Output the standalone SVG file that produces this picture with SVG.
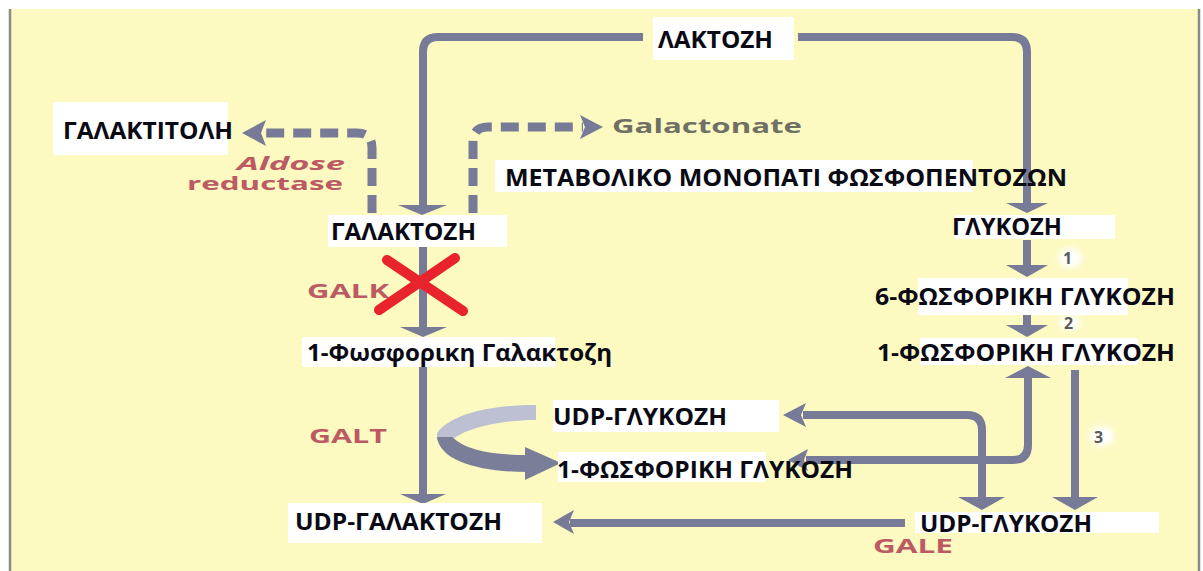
<svg xmlns="http://www.w3.org/2000/svg" width="1203" height="571" viewBox="0 0 1203 571">
<style>
.ln{fill:none;stroke:#777b97;stroke-width:8}
.dash{fill:none;stroke:#777b97;stroke-width:9;stroke-dasharray:18 9}
.ah{fill:#777b97}
.box{fill:#ffffff}
.t{font-family:"Open Sans","Noto Sans",sans-serif;font-weight:700;font-size:23px;fill:#0a0a14}
.enz{font-family:"Open Sans","Noto Sans",sans-serif;font-weight:700;font-size:19px;fill:#bb5a63}
.enz2{font-family:"Open Sans","Noto Sans",sans-serif;font-weight:700;font-size:17px;fill:#bb5a63}
.gal{font-family:"Open Sans","Noto Sans",sans-serif;font-weight:700;font-size:19px;fill:#6f6f64}
.num{font-family:"Open Sans","Noto Sans",sans-serif;font-weight:700;font-size:16px;fill:#5a5a5a}
</style>
<defs>
<filter id="glow" x="-50%" y="-50%" width="200%" height="200%"><feGaussianBlur stdDeviation="3"/></filter>
</defs>
<rect x="0" y="0" width="1203" height="571" fill="#ffffff"/>
<rect x="10" y="9" width="1189" height="562" fill="#fcf9c1"/>
<line x1="10" y1="9" x2="10" y2="571" stroke="#8a8a8a" stroke-width="2.5"/>
<line x1="1199" y1="9" x2="1199" y2="571" stroke="#8a8a8a" stroke-width="2.5"/>

<g id="connectors">
  <path class="ln" d="M423,205 V52 Q423,37 438,37 H643"/>
  <path class="ln" d="M798,37 H1012 Q1027,37 1027,52 V204"/>
  <polygon class="ah" points="398,205 447,205 422,215"/>
  <polygon class="ah" points="1006,203 1048,203 1027,213"/>
  <path class="dash" d="M372,213 V148 Q372,133 357,133 H262"/>
  <polygon class="ah" points="242,133 266,120 261,133 266,146"/>
  <path class="dash" d="M473,213 V142 Q473,127 488,127 H583"/>
  <polygon class="ah" points="603,127 580,115 585,127 580,139"/>
  <path class="ln" d="M423,247 V329"/>
  <polygon class="ah" points="400,327 447,327 423,337"/>
  <path class="ln" d="M423,367 V496"/>
  <polygon class="ah" points="400,494 446,494 423,504"/>
  <path class="ln" d="M1027,240 V267"/>
  <polygon class="ah" points="1006,265 1048,265 1027,277"/>
  <path class="ln" d="M1027,315 V326"/>
  <polygon class="ah" points="1006,325 1048,325 1027,337"/>
  <path class="ln" d="M806,460 H1013 Q1028,460 1028,445 V376"/>
  <polygon class="ah" points="1005,378 1051,378 1028,366"/>
  <polygon class="ah" points="788,460 808,449 804,460 808,471"/>
  <path class="ln" d="M803,415 H967 Q982,415 982,430 V499"/>
  <polygon class="ah" points="783,415 806,403 801,415 806,427"/>
  <polygon class="ah" points="958,497 1005,497 982,510"/>
  <path class="ln" d="M1075,370 V499"/>
  <polygon class="ah" points="1052,497 1098,497 1075,510"/>
  <path class="ln" d="M905,523 H570"/>
  <polygon class="ah" points="553,522 574,510 569,522 574,534"/>
  <path fill="#bcc0d2" d="M536,405 C492,405 452,413 437,433 L437,440 L452,440 C465,428 500,420 536,420 Z"/>
  <path fill="#7a7e99" d="M437,437 C440,462 482,472 527,472 L527,455 C490,455 466,450 452,437 Z"/>
  <polygon fill="#7a7e99" points="525,447 561,463 525,480"/>
</g>

<g id="labels">
  <text class="enz2" x="237" y="170" font-style="italic" textLength="108" lengthAdjust="spacingAndGlyphs">Aldose</text>
  <text class="enz2" x="187" y="190" textLength="156" lengthAdjust="spacingAndGlyphs">reductase</text>
  <text class="gal" x="612" y="133" textLength="190" lengthAdjust="spacingAndGlyphs">Galactonate</text>
  <text class="enz" x="307" y="298" textLength="82" lengthAdjust="spacingAndGlyphs">GALK</text>
  <text class="enz" x="309" y="443" textLength="78" lengthAdjust="spacingAndGlyphs">GALT</text>
  <text class="enz" x="873" y="553" textLength="80" lengthAdjust="spacingAndGlyphs">GALE</text>
  <ellipse cx="1070" cy="258" rx="12" ry="10" fill="#ffffff" filter="url(#glow)"/>
  <text class="num" x="1063" y="264">1</text>
  <ellipse cx="1070" cy="323" rx="11" ry="7" fill="#ffffff" filter="url(#glow)"/>
  <text class="num" x="1064" y="329" font-size="14">2</text>
  <ellipse cx="1102" cy="436" rx="12" ry="10" fill="#ffffff" filter="url(#glow)"/>
  <text class="num" x="1094" y="443">3</text>
</g>

<g id="lactose"><rect class="box" x="653" y="17" width="141" height="43"/><text class="t" x="658" y="48" textLength="115" lengthAdjust="spacingAndGlyphs">ΛΑΚΤΟΖΗ</text></g>
<g id="galactitol"><rect class="box" x="53" y="102" width="175" height="53"/><text class="t" x="63" y="139" textLength="170" lengthAdjust="spacingAndGlyphs">ΓΑΛΑΚΤΙΤΟΛΗ</text></g>
<g id="pentose"><rect class="box" x="495" y="160" width="478" height="32"/><text class="t" x="505" y="186" textLength="562" lengthAdjust="spacingAndGlyphs">ΜΕΤΑΒΟΛΙΚΟ ΜΟΝΟΠΑΤΙ ΦΩΣΦΟΠΕΝΤΟΖΩΝ</text></g>
<g id="galactose"><rect class="box" x="328" y="215" width="179" height="32"/><text class="t" x="331" y="240" textLength="145" lengthAdjust="spacingAndGlyphs">ΓΑΛΑΚΤΟΖΗ</text></g>
<g id="glucose"><rect class="box" x="955" y="215" width="160" height="24"/><text class="t" x="952" y="235" textLength="110" lengthAdjust="spacingAndGlyphs">ΓΛΥΚΟΖΗ</text></g>
<g id="g6p"><rect class="box" x="918" y="278" width="210" height="37"/><text class="t" x="875" y="305" textLength="300" lengthAdjust="spacingAndGlyphs">6-ΦΩΣΦΟΡΙΚΗ ΓΛΥΚΟΖΗ</text></g>
<g id="g1p"><rect class="box" x="920" y="338" width="218" height="27"/><text class="t" x="877" y="361" textLength="298" lengthAdjust="spacingAndGlyphs">1-ΦΩΣΦΟΡΙΚΗ ΓΛΥΚΟΖΗ</text></g>
<g id="gal1p"><rect class="box" x="302" y="337" width="253" height="30"/><text class="t" x="307" y="361" font-weight="600" textLength="305" lengthAdjust="spacingAndGlyphs">1-Φωσφορικη Γαλακτοζη</text></g>
<g id="udpglc-mid"><rect class="box" x="553" y="400" width="226" height="32"/><text class="t" x="553" y="425" textLength="174" lengthAdjust="spacingAndGlyphs">UDP-ΓΛΥΚΟΖΗ</text></g>
<g id="g1p-mid"><rect class="box" x="558" y="452" width="208" height="30"/><text class="t" x="557" y="478" textLength="296" lengthAdjust="spacingAndGlyphs">1-ΦΩΣΦΟΡΙΚΗ ΓΛΥΚΟΖΗ</text></g>
<g id="udpgal"><rect class="box" x="288" y="503" width="254" height="40"/><text class="t" x="295" y="530" textLength="207" lengthAdjust="spacingAndGlyphs">UDP-ΓΑΛΑΚΤΟΖΗ</text></g>
<g id="udpglc-bot"><rect class="box" x="915" y="512" width="244" height="21"/><text class="t" x="920" y="532" textLength="172" lengthAdjust="spacingAndGlyphs">UDP-ΓΛΥΚΟΖΗ</text></g>

<g id="block">
  <line x1="387" y1="260" x2="463" y2="311" stroke="#e8232b" stroke-width="10" stroke-linecap="round"/>
  <line x1="455" y1="258" x2="379" y2="310" stroke="#e8232b" stroke-width="10" stroke-linecap="round"/>
</g>
</svg>
